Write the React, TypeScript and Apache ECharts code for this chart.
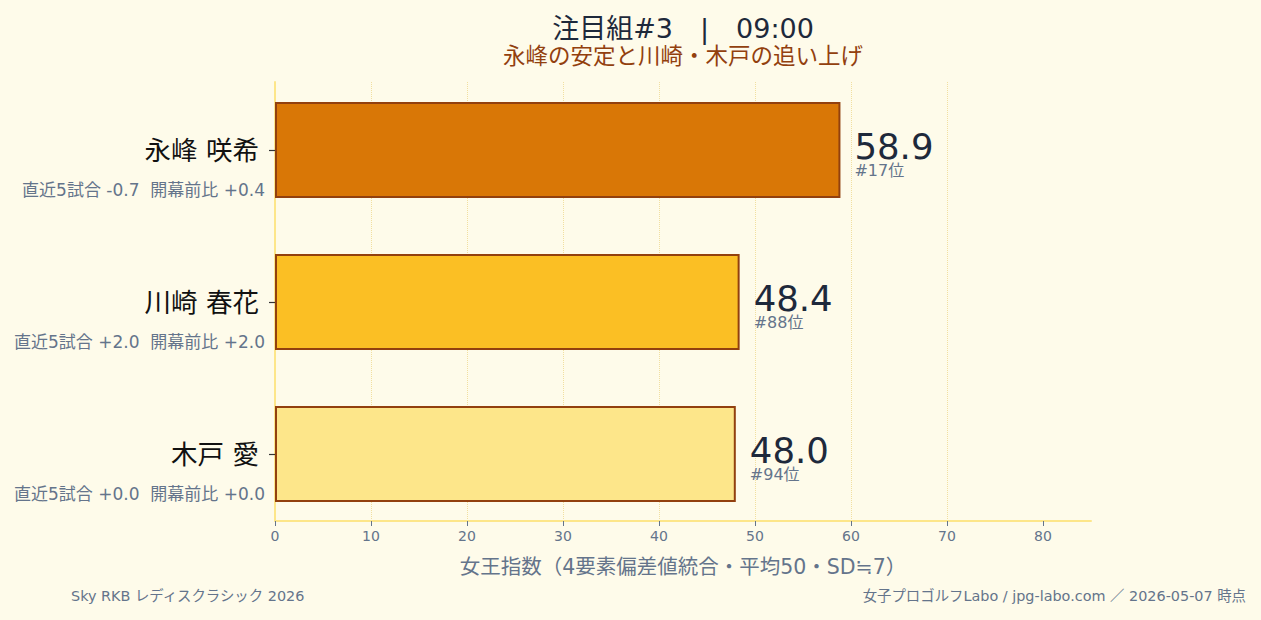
import React, { useEffect, useRef } from "react";
import * as echarts from "echarts";

const players = ["永峰 咲希", "川崎 春花", "木戸 愛"];
const scores = [58.9, 48.4, 48.0];
const ranks = [17, 88, 94];
const recent5 = ["-0.7", "+2.0", "+0.0"];
const vsOpening = ["+0.4", "+2.0", "+0.0"];
const barColors = ["#d97706", "#fbbf24", "#fde68a"];
const xTicks = [0, 10, 20, 30, 40, 50, 60, 70, 80];

const FONT = '"DejaVu Sans", "Noto Sans CJK JP", sans-serif';
const GRAY = "#64748b";
const DARK = "#1e293b";

// plot spans x 275..1091, titles are centred on it
const PLOT_LEFT = 275;
const PLOT_RIGHT = 170;
const PLOT_CENTER = 683;

const App: React.FC = () => {
  const chartRef = useRef<HTMLDivElement>(null);

  useEffect(() => {
    document.body.style.margin = "0";
    if (!chartRef.current) return;
    const chart = echarts.init(chartRef.current, null, { renderer: "svg" });

    const option = {
      animation: false,
      backgroundColor: "#fefbea",
      textStyle: { fontFamily: FONT },
      grid: [
        // bars and category labels
        { left: PLOT_LEFT, right: PLOT_RIGHT, top: 74, height: 456 },
        // visible value axis, spine and grid lines
        { left: PLOT_LEFT, right: PLOT_RIGHT, top: 82, bottom: 99 },
      ],
      xAxis: [
        { gridIndex: 0, type: "value", min: 0, max: 85, show: false },
        {
          gridIndex: 1,
          type: "value",
          min: 0,
          max: 85,
          interval: 10,
          name: "女王指数（4要素偏差値統合・平均50・SD≒7）",
          nameLocation: "middle",
          nameGap: 36,
          nameTextStyle: { fontFamily: FONT, fontSize: 20.5, color: GRAY },
          axisLine: { show: true, lineStyle: { color: "#fde68a", width: 2 } },
          axisTick: { show: true, length: 5, customValues: xTicks, lineStyle: { color: GRAY, width: 1 } },
          axisLabel: { customValues: xTicks, fontSize: 14, color: GRAY, margin: 8, fontFamily: FONT },
          splitLine: {
            show: true,
            showMinLine: false,
            showMaxLine: false,
            lineStyle: { color: "#f1dfa0", type: "dotted", width: 1 },
          },
        },
      ],
      yAxis: [
        {
          gridIndex: 0,
          type: "category",
          inverse: true,
          data: players,
          axisLine: { show: false },
          axisTick: { show: true, alignWithLabel: true, length: 6, lineStyle: { color: "#333", width: 1.2 } },
          axisLabel: {
            margin: 10,
            align: "right",
            formatter: (val: string, idx: number) =>
              `{sp| }\n{name|${val}}\n{sub|直近5試合 ${recent5[idx]}  開幕前比 ${vsOpening[idx]}}`,
            rich: {
              sp: { fontSize: 16, lineHeight: 40 },
              name: { fontSize: 26.5, lineHeight: 40, color: "#111111", fontFamily: FONT, padding: [0, 6, 0, 0] },
              sub: { fontSize: 17, lineHeight: 40, color: GRAY, fontFamily: FONT },
            },
          },
        },
        {
          gridIndex: 1,
          type: "value",
          axisLine: { show: true, lineStyle: { color: "#fde68a", width: 2 } },
          axisTick: { show: false },
          axisLabel: { show: false },
          splitLine: { show: false },
        },
      ],
      series: [
        {
          type: "bar",
          xAxisIndex: 0,
          yAxisIndex: 0,
          barWidth: 96,
          data: scores.map((v, i) => ({
            value: v,
            itemStyle: { color: barColors[i], borderColor: "#92400e", borderWidth: 2 },
          })),
          label: {
            show: true,
            position: "right",
            distance: 14,
            offset: [0, 2],
            formatter: (p: any) => `{v|${p.value.toFixed(1)}}\n{r|#${ranks[p.dataIndex]}位}`,
            rich: {
              v: { fontSize: 35.5, lineHeight: 36, color: DARK, fontFamily: FONT },
              r: { fontSize: 16, lineHeight: 12, color: GRAY, fontFamily: FONT },
            },
          },
        },
      ],
      graphic: [
        {
          type: "text",
          x: PLOT_CENTER,
          y: 28,
          style: {
            text: "注目組#3　|　09:00",
            fill: DARK,
            fontSize: 27,
            fontFamily: FONT,
            align: "center",
            verticalAlign: "middle",
          },
        },
        {
          type: "text",
          x: PLOT_CENTER,
          y: 56,
          style: {
            text: "永峰の安定と川崎・木戸の追い上げ",
            fill: "#92400e",
            fontSize: 22.5,
            fontFamily: FONT,
            align: "center",
            verticalAlign: "middle",
          },
        },
        {
          type: "text",
          left: 71,
          top: 589,
          style: { text: "Sky RKB レディスクラシック 2026", fill: GRAY, fontSize: 14.4, fontFamily: FONT },
        },
        {
          type: "text",
          right: 15,
          top: 589,
          style: {
            text: "女子プロゴルフLabo / jpg-labo.com ／ 2026-05-07 時点",
            fill: GRAY,
            fontSize: 14.4,
            fontFamily: FONT,
          },
        },
      ],
    };

    chart.setOption(option);
    return () => {
      chart.dispose();
    };
  }, []);

  return <div ref={chartRef} style={{ width: 1261, height: 620 }} />;
};

export default App;
